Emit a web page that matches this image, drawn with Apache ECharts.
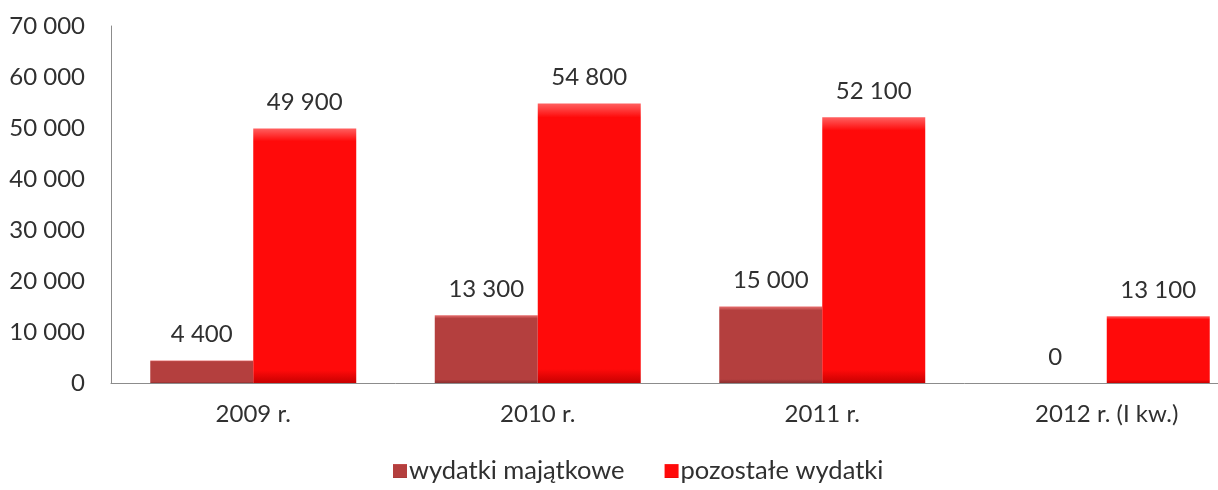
<!DOCTYPE html>
<html>
<head>
<meta charset="utf-8">
<script src="https://cdn.jsdelivr.net/npm/echarts@6/dist/echarts.min.js"></script>
<style>html,body{margin:0;padding:0;background:#fff;overflow:hidden;width:1218px;height:490px}#c{width:1249px;height:490px}</style>
</head>
<body>
<div id="c"></div>
<script>
const categories = ['2009 r.', '2010 r.', '2011 r.', '2012 r. (I kw.)'];
const seriesNames = ['wydatki majątkowe', 'pozostałe wydatki'];
const majatkowe = [4400, 13300, 15000, 0];
const pozostale = [49900, 54800, 52100, 13100];
const yTicks = [0, 10000, 20000, 30000, 40000, 50000, 60000, 70000];

const fmt = v => String(v).replace(/\B(?=(\d{3})+(?!\d))/g, ' ');
const FONT = 'Lato, "Open Sans", sans-serif';
const txt = '#303030';

const chart = echarts.init(document.getElementById('c'));
function grad(light, main, dark) {
  return new echarts.graphic.LinearGradient(0, 0, 0, 1, [
    {offset: 0, color: light}, {offset: 0.05, color: main}, {offset: 0.95, color: main}, {offset: 1, color: dark}
  ]);
}
chart.setOption({
  animation: false,
  textStyle: {fontFamily: FONT},
  grid: {left: 111, top: 26, bottom: 107, right: 0, containLabel: false},
  legend: {
    bottom: 1, left: 388, itemWidth: 14, itemHeight: 14, itemGap: 40,
    icon: 'rect',
    textStyle: {fontFamily: FONT, fontSize: 25.5, color: txt, padding: [0, 0, 0, -3]},
    data: seriesNames
  },
  xAxis: {
    type: 'category', data: categories,
    axisLine: {lineStyle: {color: '#8c8c8c', width: 1}},
    axisTick: {show: false},
    axisLabel: {fontFamily: FONT, fontSize: 24, color: txt, margin: 19}
  },
  yAxis: {
    type: 'value', min: yTicks[0], max: yTicks[yTicks.length - 1], interval: 10000,
    axisLine: {show: true, lineStyle: {color: '#8c8c8c', width: 1}},
    axisTick: {show: false},
    splitLine: {show: false},
    axisLabel: {fontFamily: FONT, fontSize: 24, color: txt, margin: 26, formatter: v => fmt(v)}
  },
  series: [
    {
      name: seriesNames[0], type: 'bar', data: majatkowe,
      barGap: '0%', barCategoryGap: '27.6%',
      itemStyle: {color: grad('#e87070', '#b43f3e', '#8a2e2e')},
      label: {show: true, position: 'top', distance: 14, fontFamily: FONT, fontSize: 24, color: txt, formatter: p => fmt(p.value)}
    },
    {
      name: seriesNames[1], type: 'bar', data: pozostale,
      barGap: '0%', barCategoryGap: '27.6%',
      itemStyle: {color: grad('#ff6060', '#ff0a0a', '#c80000')},
      label: {show: true, position: 'top', distance: 14, fontFamily: FONT, fontSize: 24, color: txt, formatter: p => fmt(p.value)}
    }
  ]
});
</script>
</body>
</html>
